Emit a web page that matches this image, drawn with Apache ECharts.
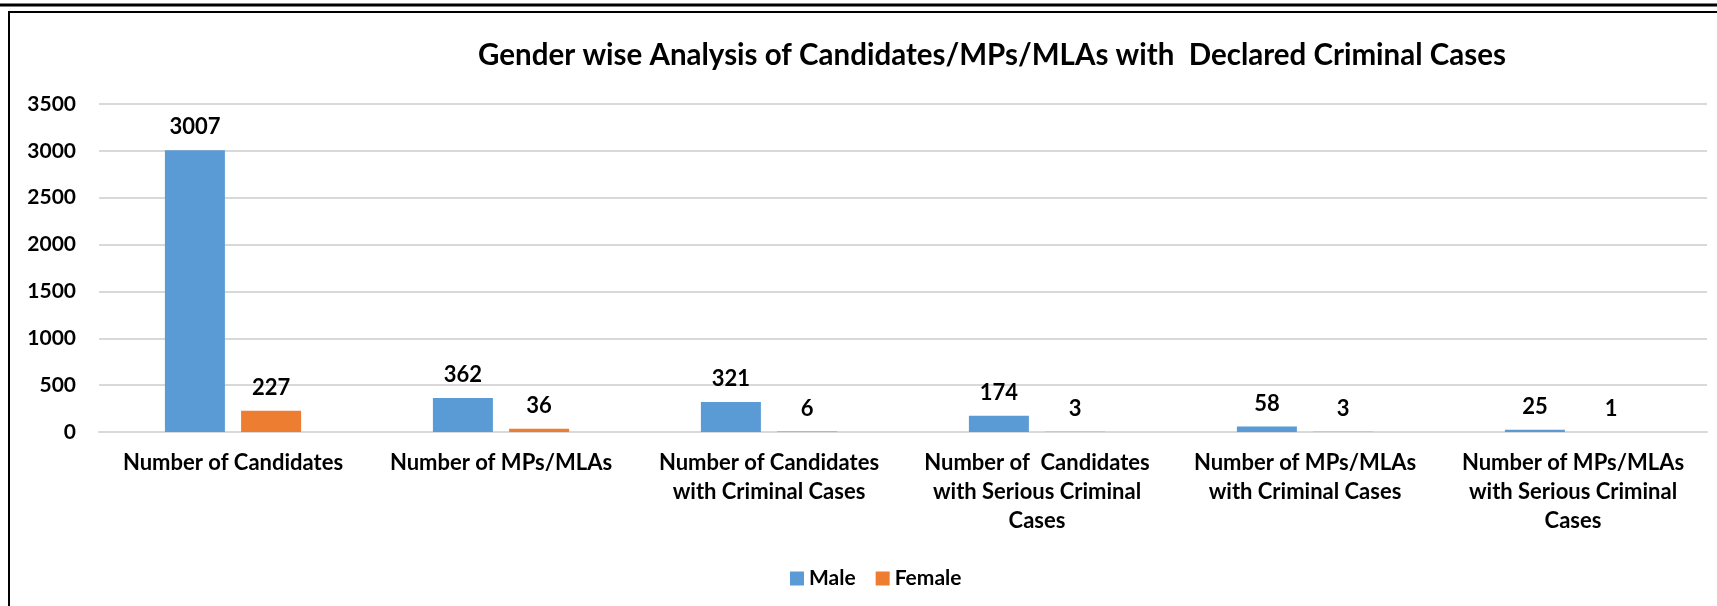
<!DOCTYPE html>
<html>
<head>
<meta charset="utf-8">
<title>Gender wise Analysis</title>
<script src="https://cdn.jsdelivr.net/npm/echarts@6/dist/echarts.min.js"></script>
<style>
  html, body { margin: 0; padding: 0; background: #fff; }
  #chart_id { width: 1717px; height: 606px; }
</style>
</head>
<body>
<div id="chart_id"></div>
<script>
// categories (line breaks as in the original chart)
const categories = [
  'Number of Candidates',
  'Number of MPs/MLAs',
  'Number of Candidates\nwith Criminal Cases',
  'Number of  Candidates\nwith Serious Criminal\nCases',
  'Number of MPs/MLAs\nwith Criminal Cases',
  'Number of MPs/MLAs\nwith Serious Criminal\nCases',
];
const maleData = [3007, 362, 321, 174, 58, 25];
const femaleData = [227, 36, 6, 3, 3, 1];
const yTicks = [0, 500, 1000, 1500, 2000, 2500, 3000, 3500];

const FONT = 'Lato';
const myChart = echarts.init(document.getElementById('chart_id'));

const labelStyle = {
  show: true,
  position: 'top',
  distance: 12,
  color: '#000',
  fontFamily: FONT,
  fontWeight: 'bold',
  fontSize: 22,
};

const option = {
  animation: false,
  title: {
    text: 'Gender wise Analysis of Candidates/MPs/MLAs with  Declared Criminal Cases',
    left: 987,
    top: 35,
    textAlign: 'center',
    textStyle: {
      fontFamily: FONT,
      fontWeight: 'bold',
      fontSize: 29.5,
      color: '#000',
    },
  },
  legend: {
    data: ['Male', 'Female'],
    left: 785,
    top: 563,
    itemWidth: 14,
    itemHeight: 14,
    itemGap: 20,
    icon: 'rect',
    textStyle: {
      fontFamily: FONT,
      fontWeight: 'bold',
      fontSize: 21,
      color: '#000',
    },
  },
  grid: {
    left: 99,
    right: 10,
    top: 104,
    bottom: 174,
    containLabel: false,
  },
  xAxis: {
    type: 'category',
    data: categories,
    axisLine: { lineStyle: { color: '#d9d9d9', width: 2 } },
    axisTick: { show: false },
    axisLabel: {
      interval: 0,
      margin: 16,
      lineHeight: 29,
      color: '#000',
      fontFamily: FONT,
      fontWeight: 'bold',
      fontSize: 22,
    },
  },
  yAxis: {
    type: 'value',
    min: yTicks[0],
    max: yTicks[yTicks.length - 1],
    interval: 500,
    axisLine: { show: false },
    axisTick: { show: false },
    axisLabel: {
      margin: 23,
      color: '#000',
      fontFamily: FONT,
      fontWeight: 'bold',
      fontSize: 21,
      formatter: (value) => `${value}`,
    },
    splitLine: { lineStyle: { color: '#d9d9d9', width: 2 } },
  },
  series: [
    {
      name: 'Male',
      type: 'bar',
      data: maleData,
      barWidth: 60,
      barGap: '27%',
      itemStyle: { color: '#5b9bd5' },
      label: labelStyle,
    },
    {
      name: 'Female',
      type: 'bar',
      data: femaleData,
      barWidth: 60,
      itemStyle: { color: '#ed7d31' },
      label: labelStyle,
    },
  ],
  graphic: [
    // outer frame lines of the picture
    { type: 'line', shape: { x1: 0, y1: 5, x2: 1717, y2: 5 }, style: { stroke: '#000', lineWidth: 3 } },
    { type: 'polyline', shape: { points: [[9, 606], [9, 12], [1717, 12]] }, style: { stroke: '#000', lineWidth: 2, fill: null } },
  ],
};

myChart.setOption(option);
window.onresize = myChart.resize;
</script>
</body>
</html>
